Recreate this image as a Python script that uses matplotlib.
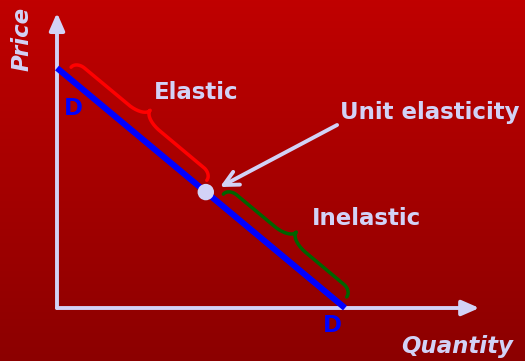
import numpy as np
import matplotlib
matplotlib.use("Agg")
import matplotlib.pyplot as plt

# Linear demand curve (price intercept -> quantity intercept)
demand_q = [0.0, 12.0]
demand_p = [10.0, 0.0]

# Point of unit elasticity on the curve
unit_q = [6.2]
unit_p = [4.83]

# Portions of the curve marked by braces (distance along the curve from the price intercept)
elastic_span = (0.43, 7.79)
inelastic_span = (8.69, 15.38)

# Text labels
price_label = "Price"
quantity_label = "Quantity"
elastic_label = "Elastic"
inelastic_label = "Inelastic"
unit_label = "Unit elasticity"
curve_label = "D"

TEXT = "#d2d2f6"
BLUE = "#0000ff"

fig = plt.figure(figsize=(5.25, 3.61), dpi=100)
ax = fig.add_axes([0, 0, 1, 1])
ax.set_xlim(-2.375, 19.5)
ax.set_ylim(-2.208, 12.833)
ax.axis("off")

# Red background gradient, brighter at the top
grad = np.linspace(0, 1, 256)[:, None]
top = np.array([192, 0, 0]) / 255
bot = np.array([140, 0, 0]) / 255
img = top[None, None, :] * (1 - grad[..., None]) + bot[None, None, :] * grad[..., None]
ax.imshow(img, extent=[-2.375, 19.5, -2.208, 12.833], aspect="auto", zorder=0)

# Axes with arrowheads
axis_arrow = dict(arrowstyle="-|>,head_width=0.35,head_length=0.8",
                  color=TEXT, lw=2.8, mutation_scale=13, shrinkA=0, shrinkB=0)
ax.annotate("", xy=(0, 12.3), xytext=(0, 0), arrowprops=axis_arrow, zorder=2)
ax.annotate("", xy=(17.6, 0), xytext=(0, 0), arrowprops=axis_arrow, zorder=2)

# Demand curve
ax.plot(demand_q, demand_p, color=BLUE, lw=4.4, solid_capstyle="butt", zorder=3)

# Unit direction along the curve and normal toward the upper right
q0, p0 = demand_q[0], demand_p[0]
vec = np.array([demand_q[1] - q0, demand_p[1] - p0])
u = vec / np.hypot(*vec)
n = np.array([-u[1], u[0]])
if n[1] < 0:
    n = -n


def brace(s0, s1, color, tip=0.40, end_a=0.45, end_n=0.33, mid_a=0.85, mid_n=0.40):
    """Curly brace parallel to the curve, built from elliptic arcs and straight runs."""
    half = (s1 - s0) / 2
    w = tip + end_n
    a1 = np.linspace(np.pi, np.pi / 2, 40)
    x1 = end_a + end_a * np.cos(a1)
    y1 = tip + end_n * np.sin(a1)
    a2 = np.linspace(1.5 * np.pi, 2 * np.pi, 40)
    x2 = half - mid_a + mid_a * np.cos(a2)
    y2 = w + mid_n + mid_n * np.sin(a2)
    hx = np.concatenate([x1, x2])
    hy = np.concatenate([y1, y2])
    x = np.concatenate([hx, 2 * half - hx[::-1]])
    y = np.concatenate([hy, hy[::-1]])
    s = s0 + x
    pts = np.array([q0, p0])[None, :] + s[:, None] * u[None, :] + y[:, None] * n[None, :]
    ax.plot(pts[:, 0], pts[:, 1], color=color, lw=2.5, solid_capstyle="round",
            solid_joinstyle="round", zorder=3)


brace(*elastic_span, "#ff0000")
brace(*inelastic_span, "#006400")

# Unit elasticity point
ax.scatter(unit_q, unit_p, s=140, color=TEXT, edgecolors="none", zorder=4)

# Arrow to the unit elasticity point
ax.annotate("", xy=(6.79, 5.04), xytext=(11.67, 7.625),
            arrowprops=dict(arrowstyle="->,head_width=0.4,head_length=0.8",
                            color=TEXT, lw=2.8, mutation_scale=13,
                            shrinkA=0, shrinkB=0), zorder=4)

fs = 16.5
ax.text(-1.46, 11.21, price_label, rotation=90, ha="center", va="center",
        fontsize=fs, fontweight="bold", fontstyle="italic", color=TEXT)
ax.text(16.67, -1.62, quantity_label, ha="center", va="center",
        fontsize=fs, fontweight="bold", fontstyle="italic", color=TEXT)
ax.text(5.79, 8.96, elastic_label, ha="center", va="center",
        fontsize=fs, fontweight="bold", color=TEXT)
ax.text(12.9, 3.75, inelastic_label, ha="center", va="center",
        fontsize=fs, fontweight="bold", color=TEXT)
ax.text(15.55, 8.13, unit_label, ha="center", va="center",
        fontsize=fs, fontweight="bold", color=TEXT)
ax.text(0.7, 8.33, curve_label, ha="center", va="center",
        fontsize=fs, fontweight="bold", color=BLUE)
ax.text(11.46, -0.71, curve_label, ha="center", va="center",
        fontsize=fs, fontweight="bold", color=BLUE)

fig.savefig("out.png", dpi=100)
